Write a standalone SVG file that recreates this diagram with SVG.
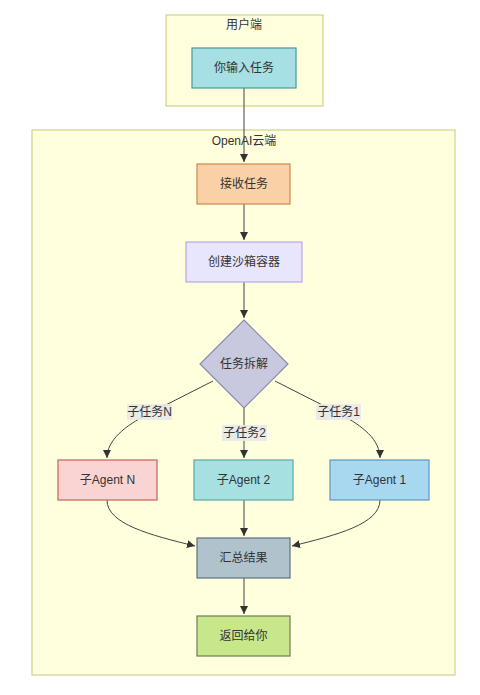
<svg xmlns="http://www.w3.org/2000/svg" width="480" height="695" viewBox="0 0 480 695">
<style>
text{font-family:"Liberation Sans","Noto Sans CJK SC",sans-serif;font-size:12px;fill:#333;text-anchor:middle;dominant-baseline:central}
.cl{fill:#ffffde;stroke:#c8c878;stroke-width:1}
.n{stroke-width:1.2}
.e{fill:none;stroke:#444;stroke-width:1}
.lb{fill:#e8e8e8;opacity:0.9}
</style>
<defs>
<marker id="ah" viewBox="0 0 10 10" refX="10" refY="5" markerWidth="8" markerHeight="8" markerUnits="userSpaceOnUse" orient="auto">
<path d="M0,0 L10,5 L0,10 z" fill="#333"/>
</marker>
</defs>
<g id="cluster-user">
<rect class="cl" x="166" y="15" width="157" height="91"/>
<text x="244" y="25">用户端</text>
</g>
<g id="cluster-cloud">
<rect class="cl" x="32" y="130" width="423" height="545"/>
<text x="244" y="141">OpenAI云端</text>
</g>
<g id="edges">
<path class="e" d="M244,88 V162" marker-end="url(#ah)"/>
<path class="e" d="M244,204 V240" marker-end="url(#ah)"/>
<path class="e" d="M244,282 V318" marker-end="url(#ah)"/>
<path class="e" d="M213,381 L148,414 C125,426 107,440 107,458" marker-end="url(#ah)"/>
<path class="e" d="M244,408 V458" marker-end="url(#ah)"/>
<path class="e" d="M275,381 L340,414 C363,426 380,440 380,458" marker-end="url(#ah)"/>
<path class="e" d="M107,500 C107,524 150,535 195,546" marker-end="url(#ah)"/>
<path class="e" d="M244,500 V536" marker-end="url(#ah)"/>
<path class="e" d="M380,500 C380,524 337,535 292,546" marker-end="url(#ah)"/>
<path class="e" d="M244,578 V614" marker-end="url(#ah)"/>
<rect class="lb" x="127" y="404" width="45" height="16"/>
<text x="149.5" y="412">子任务N</text>
<rect class="lb" x="222" y="425" width="45" height="16"/>
<text x="244.5" y="433">子任务2</text>
<rect class="lb" x="316" y="404" width="45" height="16"/>
<text x="338.5" y="412">子任务1</text>
</g>
<g id="input">
<rect class="n" x="192" y="48" width="104" height="40" fill="#a6e0e4" stroke="#4a9aa0"/>
<text x="244" y="68">你输入任务</text>
</g>
<g id="receive">
<rect class="n" x="197" y="164" width="93" height="40" fill="#fad1a6" stroke="#d08848"/>
<text x="244" y="184">接收任务</text>
</g>
<g id="sandbox">
<rect class="n" x="186" y="242" width="116" height="40" fill="#e8e6fc" stroke="#b8a6ec"/>
<text x="244" y="262">创建沙箱容器</text>
</g>
<g id="split">
<polygon class="n" points="244,320 288,364 244,408 200,364" fill="#c8c8de" stroke="#8a88b0"/>
<text x="244" y="364">任务拆解</text>
</g>
<g id="agentN">
<rect class="n" x="58" y="460" width="99" height="40" fill="#fad4d2" stroke="#c8605a"/>
<text x="107.5" y="480">子Agent N</text>
</g>
<g id="agent2">
<rect class="n" x="194" y="460" width="99" height="40" fill="#a6e0e0" stroke="#5aa8a8"/>
<text x="243.5" y="480">子Agent 2</text>
</g>
<g id="agent1">
<rect class="n" x="330" y="460" width="99" height="40" fill="#a8d8f0" stroke="#5c98c0"/>
<text x="379.5" y="480">子Agent 1</text>
</g>
<g id="summary">
<rect class="n" x="197" y="538" width="93" height="40" fill="#b0c2cc" stroke="#5e7080"/>
<text x="243.5" y="558">汇总结果</text>
</g>
<g id="return">
<rect class="n" x="197" y="616" width="93" height="40" fill="#c8e68a" stroke="#6e7e58"/>
<text x="243.5" y="636">返回给你</text>
</g>
</svg>
